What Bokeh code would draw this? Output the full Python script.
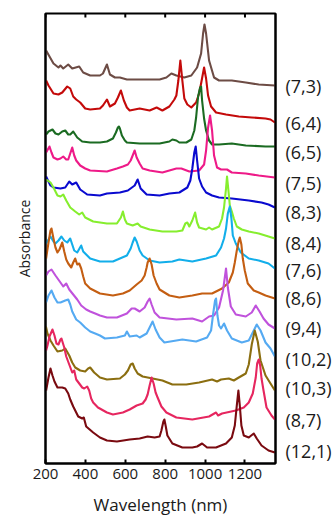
from bokeh.plotting import figure
from bokeh.models import Range1d, LinearAxis, FixedTicker
from bokeh.embed import file_html
from bokeh.resources import INLINE

# ---- data (wavelength in nm, absorbance in arbitrary stacked units) ----
wl_7_3 = [203,240,265,275,289,314,334,369,389,424,473,488,508,523,548,573,608,672,772,806,831,856,896,931,960,980,990,997,1005,1020,1045,1070,1134,1204,1269,1350]
ab_7_3 = [413,400,396,398,395,399,395,397,391,388,388,390,399,389,386,386,384,384,384,386,390,388,386,388,396,410,430,439,430,403,386,383,383,381,379,378]

wl_6_4 = [203,215,240,265,284,309,324,339,354,374,399,424,473,488,508,523,548,563,578,593,608,622,672,722,757,786,821,846,856,866,876,886,896,911,931,955,970,980,995,1005,1015,1030,1055,1105,1169,1234,1303,1328,1350]
ab_6_4 = [383,378,370,369,371,377,375,367,364,361,355,354,355,358,364,357,360,366,373,363,356,353,355,353,356,353,357,364,368,383,403,383,365,359,356,361,370,380,396,385,368,357,351,349,347,346,345,344,341]

wl_6_5 = [203,215,235,250,265,284,299,314,324,339,349,359,384,424,473,508,538,553,563,568,573,583,598,608,672,772,821,836,856,871,906,931,946,955,965,975,980,985,995,1005,1020,1035,1070,1134,1204,1303,1350]
ab_6_5 = [329,332,334,330,329,332,333,329,329,332,329,326,322,321,321,322,325,331,336,337,335,328,323,321,320,320,322,324,323,321,321,324,333,346,367,376,377,363,345,333,323,319,319,320,318,317,317]

wl_7_5 = [203,220,230,240,260,275,289,304,314,324,334,344,354,374,399,424,508,558,588,613,627,637,647,657,672,687,722,786,821,856,881,921,970,995,1005,1015,1025,1035,1045,1060,1080,1110,1134,1204,1269,1350]
ab_7_5 = [311,317,311,306,304,305,307,304,304,310,316,308,303,298,295,293,292,295,297,299,303,308,313,306,300,295,293,291,293,295,295,292,293,299,313,336,348,333,308,296,294,294,291,290,288,286]

wl_8_3 = [203,210,225,240,275,299,319,334,354,374,409,473,508,573,613,647,662,677,707,772,821,871,911,926,936,946,953,960,970,985,1005,1035,1070,1134,1219,1283,1318,1350]
ab_8_3 = [287,284,278,276,275,276,282,279,281,274,269,268,270,271,273,278,284,275,269,268,270,271,276,283,295,311,317,303,285,277,271,268,266,265,263,261,259,256]

wl_8_4 = [203,225,240,260,275,289,304,324,349,369,384,399,439,508,558,578,588,598,608,637,662,677,722,786,856,886,901,911,921,936,950,960,970,1005,1020,1035,1070,1085,1095,1105,1110,1117,1124,1134,1144,1159,1184,1219,1269,1318,1350]
ab_8_4 = [284,281,276,268,267,269,263,256,252,249,251,246,242,240,240,246,252,244,240,238,240,237,234,232,232,233,240,241,237,243,251,241,236,234,236,234,237,245,256,275,287,273,258,252,245,237,234,232,230,227,225]

wl_7_6 = [203,215,225,240,250,265,280,294,309,324,334,344,359,379,389,409,424,473,538,573,608,627,637,647,657,672,687,722,772,836,871,936,1005,1055,1080,1095,1105,1114,1124,1132,1139,1154,1179,1219,1269,1318,1350]
ab_7_6 = [220,224,227,222,220,223,227,223,221,225,219,213,211,218,212,208,205,202,202,205,208,215,221,226,222,213,208,203,201,202,204,202,205,208,216,225,235,250,257,245,228,220,211,205,203,200,195]

wl_8_6 = [203,215,225,230,240,250,260,270,284,294,304,314,329,339,349,359,369,379,389,399,424,473,538,588,622,657,682,697,707,712,722,732,742,757,772,821,871,936,985,1035,1085,1119,1139,1149,1159,1169,1174,1182,1189,1199,1214,1244,1269,1303,1350]
ab_8_6 = [205,221,233,235,225,216,211,214,221,212,204,200,196,201,205,199,200,195,187,180,175,170,168,170,173,179,183,188,196,201,205,199,188,180,174,168,166,168,170,170,175,181,191,201,213,223,226,219,205,193,180,173,171,168,165]

wl_9_4 = [203,215,230,250,275,289,304,319,339,359,379,404,424,449,473,508,558,608,632,647,672,697,712,722,732,747,772,856,936,985,1020,1045,1070,1090,1105,1114,1129,1154,1204,1234,1254,1273,1293,1318,1350]
ab_9_4 = [188,192,194,188,181,177,180,174,169,164,158,154,152,150,148,146,146,150,155,155,152,156,162,165,159,151,146,144,145,142,147,148,156,173,195,176,157,149,147,151,158,152,145,139,135]

wl_10_2 = [203,215,230,245,260,275,299,314,324,334,354,374,399,424,449,473,498,558,598,608,622,657,672,707,722,737,752,772,796,886,955,1010,1030,1040,1050,1055,1062,1070,1080,1095,1110,1134,1184,1219,1244,1259,1278,1303,1328,1350]
ab_10_2 = [161,168,173,166,161,161,163,164,159,152,144,141,136,132,130,128,125,126,128,132,127,128,126,130,136,142,134,126,121,124,122,126,133,149,163,165,148,138,135,140,133,125,121,123,133,139,133,121,115,107]

wl_10_3 = [202,210,225,240,260,284,299,319,334,349,374,399,414,424,444,473,508,573,598,613,627,637,647,662,687,737,786,836,906,970,1035,1060,1080,1119,1144,1169,1204,1219,1234,1249,1264,1278,1303,1328,1350]
ab_10_3 = [137,130,123,118,112,113,115,108,101,96,93,92,95,96,91,86,84,85,89,93,99,100,95,90,87,85,83,79,79,81,84,82,84,85,83,86,90,99,119,133,122,103,88,80,73]

wl_8_7 = [203,210,220,235,245,255,265,275,280,294,304,319,334,344,354,369,384,394,409,419,429,439,463,508,538,588,622,657,687,702,712,722,732,742,752,762,781,806,856,936,1020,1055,1065,1085,1154,1194,1219,1239,1254,1261,1269,1276,1283,1293,1308,1333,1350]
ab_8_7 = [113,118,127,134,128,120,119,124,125,116,107,99,91,93,84,80,76,75,77,73,65,61,56,51,49,51,54,58,60,64,69,78,86,80,71,66,57,51,46,44,47,51,48,50,53,56,61,70,86,100,104,98,85,73,56,48,44]

wl_12_1 = [203,215,225,235,245,260,284,299,314,324,339,364,384,392,404,439,473,508,558,622,672,712,747,772,781,791,796,803,811,836,886,936,960,985,1010,1055,1105,1134,1149,1159,1167,1174,1182,1194,1219,1244,1259,1283,1318,1350]
ab_12_1 = [73,86,95,88,82,76,76,75,70,64,57,47,45,46,37,31,26,23,22,24,25,27,26,27,33,42,44,37,28,20,16,16,17,20,16,16,20,26,38,58,73,58,38,28,26,30,25,18,13,11]

chirality_labels = ["(7,3)", "(6,4)", "(6,5)", "(7,5)", "(8,3)", "(8,4)", "(7,6)",
                    "(8,6)", "(9,4)", "(10,2)", "(10,3)", "(8,7)", "(12,1)"]
label_levels = [378, 341, 312, 281, 252, 221, 194, 166, 136, 105, 76, 44, 13]
x_ticks = [200, 400, 600, 800, 1000, 1200]

series = [
    (wl_7_3, ab_7_3, "#6D4C45"),
    (wl_6_4, ab_6_4, "#C40A0A"),
    (wl_6_5, ab_6_5, "#1B6B22"),
    (wl_7_5, ab_7_5, "#EE1A88"),
    (wl_8_3, ab_8_3, "#0A0ACF"),
    (wl_8_4, ab_8_4, "#86EE2E"),
    (wl_7_6, ab_7_6, "#12AEEA"),
    (wl_8_6, ab_8_6, "#C45E12"),
    (wl_9_4, ab_9_4, "#C052DC"),
    (wl_10_2, ab_10_2, "#55AAF2"),
    (wl_10_3, ab_10_3, "#8B6E10"),
    (wl_8_7, ab_8_7, "#E6265F"),
    (wl_12_1, ab_12_1, "#7A0A10"),
]

FONT = "Open Sans"
TXT = "#1a1a1a"
Y_TOP = 450

p = figure(width=334, height=523, output_backend="svg", toolbar_location=None,
           x_range=Range1d(200, 1353), y_range=Range1d(0, Y_TOP),
           min_border_left=45, min_border_right=57, min_border_top=13, min_border_bottom=60)
p.outline_line_color = "black"
p.outline_line_width = 2
p.xgrid.visible = False
p.ygrid.visible = False
p.background_fill_color = "white"
p.border_fill_color = "white"

for xs, ys, c in series:
    p.line(xs, ys, line_color=c, line_width=2.1, line_join="round")

# inward tick marks on the top edge (half of each bar is clipped by the frame)
p.rect(x=x_ticks, y=[Y_TOP] * len(x_ticks), width=2, height=8,
       width_units="screen", height_units="screen", fill_color="black", line_color=None)

# bottom axis
xa = p.xaxis[0]
xa.ticker = FixedTicker(ticks=x_ticks)
xa.axis_label = "Wavelength (nm)"
xa.axis_label_text_font = FONT
xa.axis_label_text_font_size = "17px"
xa.axis_label_text_font_style = "normal"
xa.axis_label_text_color = TXT
xa.axis_label_standoff = 11
xa.major_label_text_font = FONT
xa.major_label_text_font_size = "15px"
xa.major_label_text_color = TXT
xa.major_label_standoff = 5
xa.major_tick_in = 4
xa.major_tick_out = 0
xa.major_tick_line_width = 2
xa.minor_tick_line_color = None
xa.axis_line_width = 2

# left axis
ya = p.yaxis[0]
ya.ticker = FixedTicker(ticks=[])
ya.axis_label = "Absorbance"
ya.axis_label_text_font = FONT
ya.axis_label_text_font_size = "14px"
ya.axis_label_text_font_style = "normal"
ya.axis_label_text_color = TXT
ya.axis_label_standoff = 12
ya.major_tick_line_color = None
ya.minor_tick_line_color = None
ya.axis_line_width = 2

# right axis with chirality labels
right = LinearAxis(ticker=FixedTicker(ticks=label_levels),
                   major_label_overrides={lv: lab for lv, lab in zip(label_levels, chirality_labels)},
                   major_tick_line_color=None, minor_tick_line_color=None,
                   major_label_text_font=FONT, major_label_text_font_size="18px",
                   major_label_text_color=TXT, major_label_standoff=4, axis_line_width=2)
p.add_layout(right, "right")

open("out.html", "w").write(file_html(p, INLINE))
